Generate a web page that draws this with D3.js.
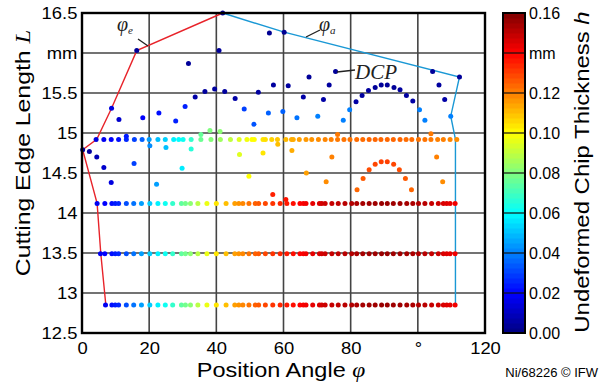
<!DOCTYPE html>
<html>
<head>
<meta charset="utf-8">
<script src="https://cdn.jsdelivr.net/npm/d3@7/dist/d3.min.js"></script>
<style>
    body { margin: 0; background: #fff; }
    svg { display: block; }
</style>
</head>
<body>
<svg id="vis" width="601" height="385"></svg>
<script>
// chip thickness along the cutting edge, position angle vs edge length

const svg = d3.select('#vis');
const SANS = "'Liberation Sans', Arial, sans-serif";
const SERIF = "'Liberation Serif', 'Times New Roman', serif";

// axis ticks
const xTicks = [0, 20, 40, 60, 80, 100, 120];
const yTicks = [12.5, 13, 13.5, 14, 14.5, 15, 15.5, 16, 16.5];
const hTicks = [0, 0.02, 0.04, 0.06, 0.08, 0.10, 0.12, 0.14, 0.16];

// position angles of the points on the three lower edge rows (shared)
const rowPhi = [4.5, 6.8, 8.9, 9.9, 10.9, 13.2, 15.4, 17.7, 20.2, 22.6, 24.8, 27.0, 29.6, 30.8, 32.3,
    34.5, 37.2, 40.0, 42.9, 45.5, 46.7, 47.9, 49.7, 51.6, 52.6, 54.6, 56.8, 59.0, 61.0, 62.9, 64.9,
    65.9, 66.7, 68.7, 70.7, 71.4, 72.4, 74.4, 76.3, 78.3, 80.3, 81.8, 83.6, 85.5, 87.3, 89.2, 90.9,
    92.7, 94.7, 96.7, 98.5, 100.2, 102.1, 104.1, 106.1, 107.6, 108.6, 109.6, 111.1];
const rowH = [0.018, 0.020, 0.022, 0.024, 0.026, 0.032, 0.038, 0.045, 0.052, 0.058, 0.062, 0.068, 0.075,
    0.078, 0.082, 0.089, 0.097, 0.104, 0.110, 0.115, 0.117, 0.119, 0.122, 0.125, 0.126, 0.129, 0.132,
    0.134, 0.136, 0.138, 0.140, 0.141, 0.142, 0.144, 0.146, 0.147, 0.148, 0.149, 0.150, 0.151, 0.152,
    0.153, 0.154, 0.155, 0.155, 0.156, 0.156, 0.155, 0.155, 0.154, 0.153, 0.152, 0.151, 0.149, 0.148,
    0.146, 0.145, 0.144, 0.142];
// edge length of each lower row and the angle of its first point
const rowL = [14.12, 13.49, 12.85];
const rowFirst = [4.5, 5.5, 7.0];

// top row (L = 14.92)
const topL = 14.92;
const topPhi = [4.2, 6.5, 8.7, 10.9, 13.2, 15.6, 17.9, 20.0, 22.6, 24.8, 27.3, 28.8, 30.1, 32.5, 35.4,
    38.4, 41.2, 44.2, 46.8, 49.1, 50.6, 51.3, 53.9, 54.6, 56.5, 58.2, 60.7, 62.4, 62.9, 64.7, 66.7,
    68.4, 70.4, 72.4, 74.2, 76.1, 78.0, 79.8, 81.8, 83.6, 85.5, 87.3, 89.0, 90.9, 92.7, 94.7, 96.5,
    98.2, 100.2, 102.1, 103.9, 105.9, 107.6, 109.6, 111.6];
const topH = [0.015, 0.018, 0.020, 0.022, 0.026, 0.030, 0.035, 0.045, 0.050, 0.053, 0.058, 0.060, 0.062,
    0.068, 0.077, 0.081, 0.085, 0.090, 0.095, 0.098, 0.100, 0.100, 0.104, 0.105, 0.107, 0.109, 0.111,
    0.113, 0.113, 0.115, 0.116, 0.117, 0.118, 0.119, 0.120, 0.121, 0.122, 0.122, 0.123, 0.123, 0.124,
    0.124, 0.124, 0.124, 0.124, 0.124, 0.123, 0.123, 0.122, 0.122, 0.121, 0.120, 0.120, 0.119, 0.118];

// scattered points: [phi, L, h]
const extraPts = [
    [0.2, 14.79, 0.004], [2.2, 14.77, 0.005], [4.4, 14.70, 0.008], [6.5, 14.57, 0.012],
    [8.7, 14.38, 0.015], [15.5, 14.62, 0.030], [22.2, 14.36, 0.045], [29.8, 14.56, 0.057],
    [20.2, 14.84, 0.042], [25.0, 14.82, 0.050], [32.5, 14.80, 0.066], [38.1, 15.03, 0.080],
    [41.1, 15.02, 0.082], [13.2, 14.96, 0.024], [35.4, 14.98, 0.076], [46.9, 14.73, 0.095],
    [49.7, 14.46, 0.100], [53.9, 14.75, 0.104], [56.8, 14.23, 0.135], [58.3, 14.86, 0.110],
    [60.7, 14.17, 0.137], [62.5, 14.78, 0.113], [66.8, 14.50, 0.115], [72.7, 14.39, 0.118],
    [74.4, 14.70, 0.120], [76.1, 14.98, 0.121], [103.9, 14.99, 0.121], [105.6, 14.70, 0.120],
    [107.4, 14.39, 0.118],
    [81.9, 14.29, 0.124], [83.7, 14.43, 0.126], [85.5, 14.54, 0.128], [87.3, 14.61, 0.129],
    [89.1, 14.64, 0.130], [90.9, 14.64, 0.130], [92.8, 14.61, 0.129], [94.5, 14.54, 0.128],
    [96.3, 14.43, 0.126], [98.1, 14.29, 0.124],
    [8.8, 15.31, 0.015], [11.0, 15.17, 0.012], [18.1, 15.19, 0.020], [22.9, 15.25, 0.022],
    [27.9, 15.15, 0.025], [30.7, 15.33, 0.025], [33.7, 15.45, 0.006], [36.6, 15.52, 0.005],
    [39.5, 15.55, 0.005], [42.5, 15.52, 0.005], [45.6, 15.43, 0.006], [48.3, 15.30, 0.030],
    [51.2, 15.11, 0.033], [31.7, 15.87, 0.004], [16.3, 16.03, 0.004], [40.8, 16.03, 0.004],
    [41.9, 16.50, 0.003], [55.8, 16.25, 0.003], [60.2, 16.26, 0.003], [52.5, 15.51, 0.005],
    [57.0, 15.60, 0.005], [61.4, 15.59, 0.005], [55.5, 15.25, 0.035], [59.8, 15.27, 0.035],
    [64.0, 15.19, 0.038], [65.9, 15.45, 0.006], [67.6, 15.70, 0.004], [70.2, 15.21, 0.040],
    [71.9, 15.42, 0.006], [73.6, 15.60, 0.005], [75.5, 15.77, 0.004], [77.8, 15.16, 0.040],
    [79.7, 15.29, 0.040], [81.6, 15.39, 0.006], [83.4, 15.47, 0.005], [85.3, 15.53, 0.005],
    [87.3, 15.57, 0.004], [89.1, 15.60, 0.004], [90.9, 15.60, 0.004], [92.9, 15.57, 0.004],
    [94.7, 15.54, 0.005], [96.6, 15.47, 0.005], [98.5, 15.40, 0.006], [100.5, 15.29, 0.040],
    [102.1, 15.16, 0.040], [104.4, 15.77, 0.004], [106.3, 15.60, 0.005], [108.0, 15.42, 0.006],
    [109.8, 15.21, 0.040], [112.4, 15.70, 0.004]
];

// entry angle line (phi_e) and exit angle line (phi_a): [phi, L]
const phiE = [[7.1, 12.85], [5.6, 13.49], [4.5, 14.12], [0.2, 14.79], [4.4, 14.92], [8.8, 15.31],
    [16.3, 16.03], [41.9, 16.5]];
const phiA = [[41.9, 16.5], [60.2, 16.26], [112.4, 15.70], [109.8, 15.21], [111.2, 14.92], [111.2, 12.85]];

const x = d3.scaleLinear().domain([0, 120]).range([82, 485]);
const y = d3.scaleLinear().domain([12.5, 16.5]).range([333, 13]);
const hMax = 0.16;
const cb = d3.scaleLinear().domain([0, hMax]).range([333, 13]);
const CBX = 503, CBW = 22;

// matlab-like jet colormap
function jet(t) {
    const c = v => Math.round(255 * Math.max(0, Math.min(1, v)));
    return d3.rgb(c(1.5 - Math.abs(4 * t - 3)), c(1.5 - Math.abs(4 * t - 2)), c(1.5 - Math.abs(4 * t - 1))).toString();
}
const color = h => jet(Math.max(0, Math.min(1, h / hMax)));

// build point list
var points = [];
topPhi.forEach(function (p, i) {
    points.push({ phi: p, L: topL, h: topH[i] });
});
rowL.forEach(function (L, r) {
    points.push({ phi: rowFirst[r], L: L, h: rowH[0] });
    rowPhi.forEach(function (p, i) {
        if (i > 0 && p > rowFirst[r] + 1) points.push({ phi: p, L: L, h: rowH[i] });
    });
});
extraPts.forEach(function (d) {
    points.push({ phi: d[0], L: d[1], h: d[2] });
});

// grid
svg.append('g').selectAll('line')
    .data(xTicks.slice(1, -1))
    .enter().append('line')
    .attr('x1', d => x(d)).attr('x2', d => x(d))
    .attr('y1', y(12.5)).attr('y2', y(16.5))
    .attr('stroke', '#444').attr('stroke-width', 1.6);
svg.append('g').selectAll('line')
    .data(yTicks.slice(1, -1))
    .enter().append('line')
    .attr('x1', x(0)).attr('x2', x(120))
    .attr('y1', d => y(d)).attr('y2', d => y(d))
    .attr('stroke', '#444').attr('stroke-width', 1.6);

// phi_e / phi_a lines
var line = d3.line().x(d => x(d[0])).y(d => y(d[1]));
svg.append('path').datum(phiE).attr('d', line)
    .attr('fill', 'none').attr('stroke', '#e8232a').attr('stroke-width', 1.4);
svg.append('path').datum(phiA).attr('d', line)
    .attr('fill', 'none').attr('stroke', '#1a98d5').attr('stroke-width', 1.4);

// points
svg.append('g').selectAll('circle')
    .data(points)
    .enter().append('circle')
    .attr('cx', d => x(d.phi))
    .attr('cy', d => y(d.L))
    .attr('r', 2.5)
    .attr('fill', d => color(d.h));

// frame
svg.append('rect')
    .attr('x', x(0)).attr('y', y(16.5))
    .attr('width', x(120) - x(0)).attr('height', y(12.5) - y(16.5))
    .attr('fill', 'none').attr('stroke', '#000').attr('stroke-width', 2.4);

// axes (labels only)
var xAxis = svg.append('g')
    .attr('transform', 'translate(0,' + y(12.5) + ')')
    .call(d3.axisBottom(x).tickValues(xTicks).tickSize(0).tickPadding(10)
        .tickFormat(d => d === 100 ? '°' : d));
var yAxis = svg.append('g')
    .attr('transform', 'translate(' + x(0) + ',0)')
    .call(d3.axisLeft(y).tickValues(yTicks).tickSize(0).tickPadding(4)
        .tickFormat(d => d === 16 ? 'mm' : d));
[xAxis, yAxis].forEach(function (a) {
    a.select('.domain').remove();
    a.selectAll('text')
        .attr('font-family', SANS).attr('font-size', 16).attr('fill', '#000')
        .attr('transform', 'scale(1.15,1)');
});
yAxis.selectAll('text').attr('dy', '0.36em');

// colorbar
var levels = d3.range(64);
svg.append('g').selectAll('rect')
    .data(levels)
    .enter().append('rect')
    .attr('x', CBX)
    .attr('y', d => cb((d + 1) * hMax / 64))
    .attr('width', CBW)
    .attr('height', d => cb(d * hMax / 64) - cb((d + 1) * hMax / 64) + 0.5)
    .attr('fill', d => jet((d + 0.5) / 64));
svg.append('g').selectAll('line')
    .data(hTicks.slice(1, -1))
    .enter().append('line')
    .attr('x1', CBX).attr('x2', CBX + CBW)
    .attr('y1', d => cb(d)).attr('y2', d => cb(d))
    .attr('stroke', '#111').attr('stroke-width', 1.2);
svg.append('rect')
    .attr('x', CBX).attr('y', cb(hMax)).attr('width', CBW).attr('height', cb(0) - cb(hMax))
    .attr('fill', 'none').attr('stroke', '#000').attr('stroke-width', 2);
var cAxis = svg.append('g')
    .attr('transform', 'translate(' + (CBX + CBW) + ',0)')
    .call(d3.axisRight(cb).tickValues(hTicks).tickSize(0).tickPadding(4)
        .tickFormat(d => Math.abs(d - 0.14) < 1e-9 ? 'mm' : d3.format('.2f')(d)));
cAxis.select('.domain').remove();
cAxis.selectAll('text')
    .attr('font-family', SANS).attr('font-size', 16).attr('fill', '#000')
    .attr('dy', '0.36em');

// titles
var xt = svg.append('text')
    .attr('transform', 'translate(281,377) scale(1.12,1)')
    .attr('text-anchor', 'middle')
    .attr('font-family', SANS).attr('font-size', 21);
xt.append('tspan').text('Position Angle ');
xt.append('tspan').attr('font-family', SERIF).attr('font-style', 'italic').text('φ');

var yt = svg.append('text')
    .attr('transform', 'translate(30,153) rotate(-90) scale(1.18,1)')
    .attr('text-anchor', 'middle')
    .attr('font-family', SANS).attr('font-size', 21);
yt.append('tspan').text('Cutting Edge Length ');
yt.append('tspan').attr('font-family', SERIF).attr('font-style', 'italic').text('L');

var ct = svg.append('text')
    .attr('transform', 'translate(589,172) rotate(-90) scale(1.14,1)')
    .attr('text-anchor', 'middle')
    .attr('font-family', SANS).attr('font-size', 21);
ct.append('tspan').text('Undeformed Chip Thickness ');
ct.append('tspan').attr('font-style', 'italic').text('h');

svg.append('text')
    .attr('x', 598).attr('y', 377)
    .attr('text-anchor', 'end')
    .attr('font-family', SANS).attr('font-size', 13)
    .text('Ni/68226 © IFW');

// annotations
function leader(x1, y1, x2, y2) {
    svg.append('line')
        .attr('x1', x1).attr('y1', y1).attr('x2', x2).attr('y2', y2)
        .attr('stroke', '#222').attr('stroke-width', 1.3);
}
leader(138, 39, 148, 46);
leader(306, 37, 320, 30);
leader(337, 72, 355, 70);

var ae = svg.append('text').attr('x', 117).attr('y', 31)
    .attr('font-family', SERIF).attr('font-style', 'italic').attr('font-size', 20).attr('fill', '#222');
ae.append('tspan').text('φ');
ae.append('tspan').attr('font-size', 11).attr('dy', 3).text('e');

var aa = svg.append('text').attr('x', 319).attr('y', 31)
    .attr('font-family', SERIF).attr('font-style', 'italic').attr('font-size', 20).attr('fill', '#222');
aa.append('tspan').text('φ');
aa.append('tspan').attr('font-size', 11).attr('dy', 3).text('a');

svg.append('text').attr('x', 355).attr('y', 79)
    .attr('font-family', SERIF).attr('font-style', 'italic').attr('font-size', 21).attr('fill', '#222')
    .text('DCP');
</script>
</body>
</html>
